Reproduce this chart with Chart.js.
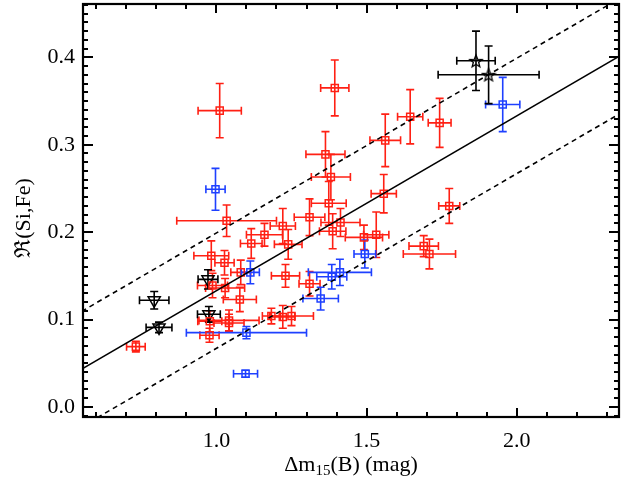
<!DOCTYPE html>
<html>
<head>
<meta charset="utf-8">
<script src="https://cdn.jsdelivr.net/npm/chart.js@4.4.0/dist/chart.umd.min.js"></script>
<style>
html, body { margin: 0; padding: 0; background: #fff; }
</style>
</head>
<body>
<canvas id="c" width="624" height="479"></canvas>
<script>
// red squares
const red_x  = [1.011, 1.394, 1.645, 1.562, 1.363, 1.381, 1.557, 1.743, 1.775, 1.690, 1.709, 1.374, 1.310, 1.221, 1.160, 1.116, 1.239, 1.413, 1.387, 1.491, 1.532, 1.230, 1.310, 1.183, 1.221, 1.250, 1.034, 0.983, 1.027, 1.081, 0.987, 1.029, 1.078, 0.978, 1.042, 1.042, 0.977, 0.732];
const red_y  = [0.339, 0.365, 0.332, 0.305, 0.289, 0.263, 0.244, 0.325, 0.230, 0.184, 0.175, 0.233, 0.217, 0.207, 0.197, 0.187, 0.186, 0.211, 0.201, 0.194, 0.197, 0.150, 0.141, 0.104, 0.103, 0.104, 0.213, 0.173, 0.165, 0.154, 0.139, 0.136, 0.123, 0.098, 0.099, 0.096, 0.082, 0.069];
const red_xe = [0.072, 0.047, 0.042, 0.051, 0.065, 0.065, 0.042, 0.038, 0.035, 0.049, 0.087, 0.058, 0.051, 0.042, 0.060, 0.036, 0.046, 0.065, 0.044, 0.062, 0.042, 0.047, 0.035, 0.030, 0.040, 0.073, 0.166, 0.058, 0.032, 0.033, 0.050, 0.065, 0.055, 0.040, 0.100, 0.050, 0.032, 0.031];
const red_ye = [0.031, 0.032, 0.031, 0.030, 0.026, 0.026, 0.022, 0.028, 0.020, 0.012, 0.017, 0.025, 0.021, 0.020, 0.013, 0.017, 0.017, 0.016, 0.020, 0.014, 0.026, 0.013, 0.014, 0.009, 0.013, 0.011, 0.018, 0.017, 0.014, 0.014, 0.014, 0.011, 0.014, 0.012, 0.012, 0.010, 0.008, 0.006];

// blue squares
const blue_x  = [0.997, 1.953, 1.494, 1.384, 1.411, 1.347, 1.113, 1.100, 1.097];
const blue_y  = [0.249, 0.346, 0.175, 0.149, 0.154, 0.124, 0.154, 0.085, 0.038];
const blue_xe = [0.032, 0.057, 0.036, 0.050, 0.105, 0.059, 0.030, 0.200, 0.040];
const blue_ye = [0.024, 0.031, 0.016, 0.014, 0.015, 0.013, 0.013, 0.007, 0.004];

// black triangles
const tri_x  = [0.972, 0.793, 0.975, 0.809];
const tri_y  = [0.146, 0.122, 0.106, 0.091];
const tri_xe = [0.033, 0.049, 0.038, 0.043];
const tri_ye = [0.011, 0.010, 0.009, 0.006];

// black stars
const star_x  = [1.864, 1.906];
const star_y  = [0.396, 0.380];
const star_xe = [0.064, 0.168];
const star_ye = [0.034, 0.033];

// fit line and its band
const fit_x   = [0.5, 2.4];
const fit_mid = [0.033, 0.413];
const fit_hi  = [0.099, 0.479];
const fit_lo  = [-0.033, 0.347];

const x_ticks = [1.0, 1.5, 2.0];
const y_ticks = [0.0, 0.1, 0.2, 0.3, 0.4];

const FONT = '"Liberation Serif", "DejaVu Serif", serif';
const RED = 'rgb(255,32,20)';
const BLUE = 'rgb(30,64,255)';

function pts(xs, ys) {
	return xs.map(function (x, i) { return {x: x, y: ys[i]}; });
}

// five point star marker, outline only
const star_img = document.createElement('canvas');
star_img.width = 16; star_img.height = 16;
(function () {
	const g = star_img.getContext('2d');
	g.strokeStyle = '#000';
	g.lineWidth = 1.3;
	g.beginPath();
	for (let i = 0; i < 10; i++) {
		const r = (i % 2 == 0) ? 6.5 : 2.8;
		const a = -Math.PI / 2 + i * Math.PI / 5;
		const px = 8 + r * Math.cos(a), py = 8.6 + r * Math.sin(a);
		if (i == 0) g.moveTo(px, py); else g.lineTo(px, py);
	}
	g.closePath();
	g.stroke();
})();

function errDs(label, xs, ys, xe, ye, color, style, radius, rot) {
	return {
		label: label,
		type: 'scatter',
		data: pts(xs, ys),
		xerr: xe,
		yerr: ye,
		borderColor: color,
		backgroundColor: 'rgba(0,0,0,0)',
		pointStyle: style,
		pointRadius: radius,
		pointRotation: rot || 0,
		pointBorderWidth: 1.5,
		showLine: false,
	};
}

function lineDs(ys, dash) {
	return {
		type: 'line',
		data: pts(fit_x, ys),
		borderColor: '#000',
		borderWidth: 1.6,
		borderDash: dash,
		pointRadius: 0,
		fill: false,
	};
}

const errbars = {
	id: 'errbars',
	beforeDatasetsDraw(chart) {
		const ctx = chart.ctx, xs = chart.scales.x, ys = chart.scales.y;
		ctx.save();
		ctx.lineWidth = 1.6;
		chart.data.datasets.forEach(function (ds) {
			if (!ds.xerr) return;
			ctx.strokeStyle = ds.borderColor;
			ds.data.forEach(function (p, i) {
				const cx = xs.getPixelForValue(p.x), cy = ys.getPixelForValue(p.y);
				const x0 = xs.getPixelForValue(p.x - ds.xerr[i]), x1 = xs.getPixelForValue(p.x + ds.xerr[i]);
				const y0 = ys.getPixelForValue(p.y - ds.yerr[i]), y1 = ys.getPixelForValue(p.y + ds.yerr[i]);
				ctx.beginPath();
				ctx.moveTo(x0, cy); ctx.lineTo(x1, cy);
				ctx.moveTo(x0, cy - 4); ctx.lineTo(x0, cy + 4);
				ctx.moveTo(x1, cy - 4); ctx.lineTo(x1, cy + 4);
				ctx.moveTo(cx, y0); ctx.lineTo(cx, y1);
				ctx.moveTo(cx - 4, y0); ctx.lineTo(cx + 4, y0);
				ctx.moveTo(cx - 4, y1); ctx.lineTo(cx + 4, y1);
				ctx.stroke();
			});
		});
		ctx.restore();
	}
};

const frame = {
	id: 'frame',
	afterDraw(chart) {
		const ctx = chart.ctx, a = chart.chartArea, xs = chart.scales.x, ys = chart.scales.y;
		ctx.save();
		ctx.strokeStyle = '#000';
		ctx.lineWidth = 2;
		ctx.beginPath();
		for (let k = 6; k <= 23; k++) {
			const px = Math.round(xs.getPixelForValue(k / 10));
			const len = (k % 5 == 0) ? 9 : 5;
			ctx.moveTo(px, a.bottom); ctx.lineTo(px, a.bottom - len);
			ctx.moveTo(px, a.top); ctx.lineTo(px, a.top + len);
		}
		for (let k = -1; k <= 46; k++) {
			const py = Math.round(ys.getPixelForValue(k / 100));
			const len = (k % 10 == 0) ? 10 : 5;
			ctx.moveTo(a.left, py); ctx.lineTo(a.left + len, py);
			ctx.moveTo(a.right, py); ctx.lineTo(a.right - len, py);
		}
		ctx.stroke();
		ctx.lineWidth = 2.2;
		ctx.strokeRect(a.left, a.top, a.right - a.left, a.bottom - a.top);

		// axis titles
		ctx.fillStyle = '#000';
		ctx.textBaseline = 'alphabetic';
		const big = '22px ' + FONT, small = '15px ' + FONT;
		ctx.font = big;
		const w1 = ctx.measureText('\u0394m').width;
		const w3 = ctx.measureText('(B) (mag)').width;
		ctx.font = small;
		const w2 = ctx.measureText('15').width;
		let tx = (a.left + a.right) / 2 - (w1 + w2 + w3) / 2;
		const base = 471;
		ctx.font = big;
		ctx.fillText('\u0394m', tx, base);
		ctx.font = small;
		ctx.fillText('15', tx + w1, base + 4);
		ctx.font = big;
		ctx.fillText('(B) (mag)', tx + w1 + w2, base);

		ctx.translate(30, 218);
		ctx.rotate(-Math.PI / 2);
		ctx.textAlign = 'center';
		ctx.font = '22px ' + FONT;
		ctx.fillText('\u211C(Si,Fe)', 0, 0);
		ctx.restore();
	}
};

const chart = new Chart(document.getElementById('c'), {
	type: 'scatter',
	data: {
		datasets: [
			lineDs(fit_mid, []),
			lineDs(fit_hi, [5, 4]),
			lineDs(fit_lo, [5, 4]),
			errDs('red', red_x, red_y, red_xe, red_ye, RED, 'rect', 5),
			errDs('blue', blue_x, blue_y, blue_xe, blue_ye, BLUE, 'rect', 5),
			errDs('tri', tri_x, tri_y, tri_xe, tri_ye, '#000', 'triangle', 7, 180),
			errDs('star', star_x, star_y, star_xe, star_ye, '#000', star_img, 7),
		]
	},
	options: {
		responsive: false,
		animation: false,
		layout: { autoPadding: false, padding: { left: 0, right: 5, top: 4, bottom: 0 } },
		plugins: {
			legend: { display: false },
			tooltip: { enabled: false },
		},
		scales: {
			x: {
				type: 'linear',
				min: 0.556,
				max: 2.34,
				grid: { display: false, drawTicks: false },
				border: { display: false },
				afterBuildTicks: function (s) { s.ticks = x_ticks.map(function (v) { return {value: v}; }); },
				afterFit: function (s) { s.height = 62; s.paddingLeft = 0; s.paddingRight = 0; },
				ticks: {
					color: '#000',
					padding: 11,
					maxRotation: 0,
					font: { family: FONT, size: 22 },
					callback: function (v) { return v.toFixed(1); }
				}
			},
			y: {
				type: 'linear',
				min: -0.0115,
				max: 0.461,
				grid: { display: false, drawTicks: false },
				border: { display: false },
				afterBuildTicks: function (s) { s.ticks = y_ticks.map(function (v) { return {value: v}; }); },
				afterFit: function (s) { s.width = 83; s.paddingTop = 0; s.paddingBottom = 0; },
				ticks: {
					color: '#000',
					padding: 8,
					font: { family: FONT, size: 22 },
					callback: function (v) { return v.toFixed(1); }
				}
			}
		}
	},
	plugins: [errbars, frame]
});
</script>
</body>
</html>
